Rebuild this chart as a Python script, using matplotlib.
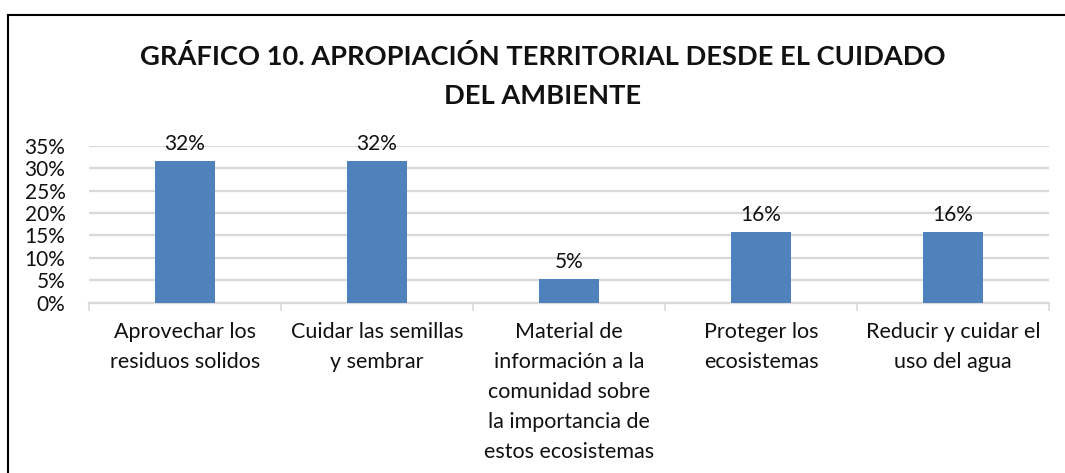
import matplotlib
matplotlib.use('Agg')
import matplotlib.pyplot as plt
from matplotlib.lines import Line2D

plt.rcParams['font.family'] = ['Lato', 'DejaVu Sans']

title = 'GRÁFICO 10. APROPIACIÓN TERRITORIAL DESDE EL CUIDADO\nDEL AMBIENTE'
categories = ['Aprovechar los\nresiduos solidos',
              'Cuidar las semillas\ny sembrar',
              'Material de\ninformación a la\ncomunidad sobre\nla importancia de\nestos ecosistemas',
              'Proteger los\necosistemas',
              'Reducir y cuidar el\nuso del agua']
values = [6 / 19, 6 / 19, 1 / 19, 3 / 19, 3 / 19]
labels = ['32%', '32%', '5%', '16%', '16%']
yticks = [0, 0.05, 0.10, 0.15, 0.20, 0.25, 0.30, 0.35]
ytick_labels = ['0%', '5%', '10%', '15%', '20%', '25%', '30%', '35%']

fig = plt.figure(figsize=(10.65, 4.73), dpi=100)
ax = fig.add_axes([89 / 1065, 1 - 302.7 / 473, 960 / 1065, 157 / 473])

x = list(range(len(values)))
bars = ax.bar(x, values, width=0.3125, color='#4F81BD', zorder=3)
for b, lab in zip(bars, labels):
    ax.annotate(lab, (b.get_x() + b.get_width() / 2, b.get_height()),
                xytext=(0, 5), textcoords='offset points',
                ha='center', va='bottom', fontsize=15, color='#111111')

ax.set_xlim(-0.5, len(values) - 0.5)
ax.set_ylim(0, 0.35)
ax.set_yticks(yticks)
ax.set_yticklabels(ytick_labels, fontsize=15, color='#111111')
ax.tick_params(axis='y', length=0, pad=17)
ax.yaxis.grid(True, color='#D9D9D9', linewidth=1.6, zorder=0)

# category boundary ticks
ax.set_xticks([i - 0.5 for i in range(len(values) + 1)], minor=False)
ax.set_xticklabels([])
ax.tick_params(axis='x', length=6, width=1.2, color='#D9D9D9', direction='out')
for i, cat in enumerate(categories):
    ax.text(i, -0.043, cat, ha='center', va='top', fontsize=15.5,
            linespacing=1.62, color='#111111')

for side in ['top', 'right', 'left']:
    ax.spines[side].set_visible(False)
ax.spines['bottom'].set_color('#D9D9D9')
ax.spines['bottom'].set_linewidth(1.6)

fig.text(543 / 1065, 1 - 76 / 473, title, ha='center', va='center',
         fontsize=19.6, fontweight='bold', linespacing=1.72, color='#111111')

# chart border
fig.add_artist(Line2D([7.5 / 1065, 7.5 / 1065], [0, 1 - 15 / 473],
                      color='black', linewidth=1.5))
fig.add_artist(Line2D([7.5 / 1065, 1.0], [1 - 15 / 473, 1 - 15 / 473],
                      color='black', linewidth=1.5))

fig.savefig('out.png', dpi=100)
